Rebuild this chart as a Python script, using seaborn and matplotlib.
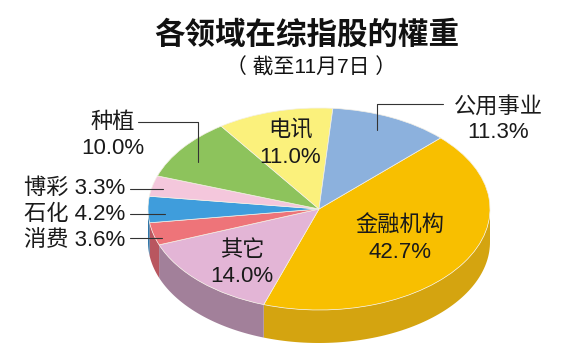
import numpy as np
import matplotlib
matplotlib.use("Agg")
import matplotlib.pyplot as plt
from matplotlib.patches import Polygon
import seaborn as sns

# data (clockwise from upper right)
sectors = ["金融机构", "其它", "消费", "石化", "博彩", "种植", "电讯", "公用事业"]
shares = [42.7, 14.0, 3.6, 4.2, 3.3, 10.0, 11.0, 11.3]
colors = ["#F8BF00", "#E3B5D6", "#EE7479", "#3F9DDC", "#F4C7DC", "#8DC35C", "#FBF17C", "#8CB1DD"]
side_colors = ["#D4A410", "#A2809A", "#B9565F", "#2F76A8", "#B8929F", "#6A9445", "#BDB55D", "#6985A8"]
title = "各领域在综指股的權重"
subtitle = "（ 截至11月7日 ）"

sns.set_theme(style="white")
plt.rcParams["font.family"] = ["Liberation Sans", "Noto Sans CJK SC", "DejaVu Sans"]

W, H = 583, 361
fig = plt.figure(figsize=(W / 100, H / 100), dpi=100)
ax = fig.add_axes([0, 0, 1, 1])

# pie geometry in pixels
cx, cy, rx, ry, depth = 319, 209, 171, 101, 33

wedges, _ = ax.pie(shares, colors=colors, startangle=44.7, counterclock=False,
                   radius=1, center=(0, 0), frame=False,
                   wedgeprops=dict(edgecolor="#f4f0e6", linewidth=0.5, zorder=3))
ax.set_xlim(-cx / rx, (W - cx) / rx)
ax.set_ylim(-(H - cy) / ry, cy / ry)
ax.set_aspect("auto")
ax.axis("off")

# side of the cake
d = depth / ry
for w, sc in zip(wedges, side_colors):
    t1, t2 = w.theta1, w.theta2
    for k in range(-2, 3):
        lo, hi = max(t1, -180 + 360 * k), min(t2, 360 * k)
        if hi <= lo:
            continue
        th = np.radians(np.linspace(lo, hi, 80))
        xs, ys = np.cos(th), np.sin(th)
        pts = np.concatenate([np.column_stack([xs, ys]),
                              np.column_stack([xs[::-1], ys[::-1] - d])])
        ax.add_patch(Polygon(pts, closed=True, facecolor=sc, edgecolor="none", zorder=1))


def fx(x):
    return x / W


def fy(y):
    return 1 - y / H


fig.text(fx(307), fy(36), title, ha="center", va="center", fontsize=22,
         fontweight="bold", color="#111111")
fig.text(fx(311), fy(67), subtitle, ha="center", va="center", fontsize=15,
         color="#111111")

lab = dict(ha="center", va="center", fontsize=16, color="#1a1a1a")
inner = {"金融机构": (400, 225, 253), "其它": (242, 250, 277), "电讯": (290, 130, 157),
         "公用事业": (498, 108, 133), "种植": (113, 122, 148)}
for name, (x, y1, y2) in inner.items():
    v = shares[sectors.index(name)]
    fig.text(fx(x), fy(y1), name, **lab)
    fig.text(fx(x), fy(y2), f"{v:.1f}%", **lab)

small = {"博彩": 188, "石化": 214, "消费": 241}
for name, y in small.items():
    v = shares[sectors.index(name)]
    fig.text(fx(125), fy(y), f"{name} {v:.1f}%", ha="right", va="center",
             fontsize=16, color="#1a1a1a")

lines = [[(377, 130), (377, 104), (443, 104)],
         [(138, 122), (198, 122), (198, 162)],
         [(130, 189), (163, 189)],
         [(130, 214), (165, 214)],
         [(130, 238), (162, 238)]]
for seg in lines:
    xs = [fx(p[0]) for p in seg]
    ys = [fy(p[1]) for p in seg]
    fig.add_artist(plt.Line2D(xs, ys, transform=fig.transFigure, color="#333333",
                              linewidth=0.8, zorder=5))

fig.savefig("out.png", dpi=100, facecolor="white")
